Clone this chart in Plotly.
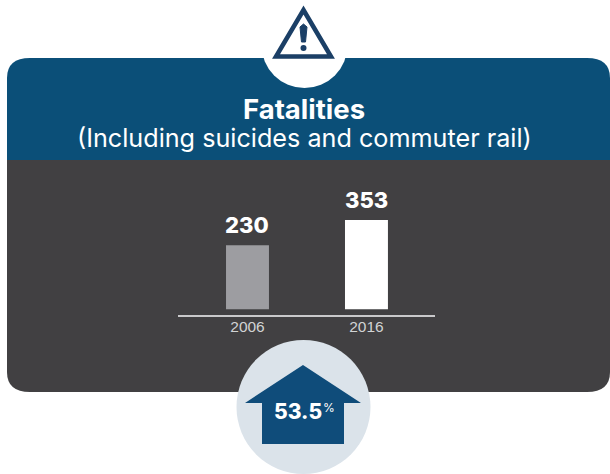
import plotly.graph_objects as go

years = ["2006", "2016"]
fatalities = [230, 353]
bar_colors = ["#9d9da1", "#ffffff"]
baseline = -81  # the source bars start below zero: heights are not proportional to the labels

W, H = 610, 474
def px(x): return x / W
def py(y): return 1 - y / H
def path(points):
    return "M" + " L".join(f"{px(x):.5f},{py(y):.5f}" for x, y in points) + " Z"

BLUE = "#0b4f78"
DARK = "#414042"
NAVY = "#1b3f66"

def circle(cx, cy, r, color, line=None):
    return dict(type="circle", xref="paper", yref="paper", layer="below",
                x0=px(cx - r), x1=px(cx + r), y0=py(cy + r), y1=py(cy - r),
                fillcolor=color, line=dict(width=0))

def p(x, y): return f"{px(x):.5f},{py(y):.5f}"

top_panel = (f"M{p(7,160)} L{p(7,78)} Q{p(7,58)} {p(30,58)} L{p(587,58)} "
             f"Q{p(610,58)} {p(610,78)} L{p(610,160)} Z")
bottom_panel = (f"M{p(7,160)} L{p(7,372)} Q{p(7,392)} {p(30,392)} L{p(587,392)} "
                f"Q{p(610,392)} {p(610,372)} L{p(610,160)} Z")

shapes = [
    dict(type="path", xref="paper", yref="paper", layer="below", path=top_panel,
         fillcolor=BLUE, line=dict(width=0)),
    dict(type="path", xref="paper", yref="paper", layer="below", path=bottom_panel,
         fillcolor=DARK, line=dict(width=0)),
    circle(304.5, 45, 43, "#ffffff"),
    circle(303.5, 407, 67, "#dbe3ea"),
    dict(type="path", xref="paper", yref="paper", layer="below",
         path=path([(303, 365), (361, 403), (344, 403), (344, 444), (262, 444), (262, 403), (245, 403)]),
         fillcolor="#0f4c7a", line=dict(width=0)),
    # warning triangle
    dict(type="path", xref="paper", yref="paper", layer="below",
         path=path([(303.5, 10), (331, 56.5), (276, 56.5)]),
         fillcolor="rgba(0,0,0,0)", line=dict(color=NAVY, width=4.5)),
    dict(type="path", xref="paper", yref="paper", layer="below",
         path=path([(300, 27), (303.5, 24), (307, 27), (305.5, 42), (301.5, 42)]),
         fillcolor=NAVY, line=dict(color=NAVY, width=1)),
    circle(303.5, 48, 3, NAVY),
]

fig = go.Figure(go.Bar(
    x=years,
    y=[v - baseline for v in fatalities],
    base=baseline,
    width=0.361,
    marker=dict(color=bar_colors, line=dict(width=0)),
    cliponaxis=False,
    hoverinfo="skip",
))

def label(text, x, y, size, color="#ffffff", weight="normal", family="Inter"):
    return dict(text=text, x=px(x), y=py(y),
                xref="paper", yref="paper", showarrow=False,
                font=dict(family=family, size=size, color=color, weight=weight),
                xanchor="center", yanchor="middle")

value_labels = [
    dict(text=str(v), x=i, y=v, xref="x", yref="y", showarrow=False,
         yanchor="bottom", yshift=5,
         font=dict(family="Inter", size=22, color="#ffffff", weight=800))
    for i, v in enumerate(fatalities)
]

fig.update_layout(
    width=W, height=H, margin=dict(l=0, r=0, t=0, b=0),
    paper_bgcolor="#ffffff", plot_bgcolor="rgba(0,0,0,0)",
    showlegend=False, shapes=shapes,
    annotations=[
        label("Fatalities", 304, 109, 27.5, weight="bold"),
        label("(Including suicides and commuter rail)", 304, 138, 25.2),
        label("53.5", 297.7, 411, 21, weight=800),
        label("%", 329, 407, 12),
    ] + value_labels,
    xaxis=dict(domain=[px(178), px(435)], type="category", range=[-0.584, 1.576],
               showgrid=False, zeroline=False, showline=True, linecolor="#c9c9cb", linewidth=2,
               ticks="", ticklabelstandoff=-4,
               tickfont=dict(family="Liberation Sans", size=15.5, color="#d1d3d4")),
    yaxis=dict(domain=[py(315), py(190)], range=[-108.7, 498.8], visible=False),
)
fig.write_html("out.html", config=dict(displayModeBar=False),
               post_script="document.body.style.margin='0';document.body.style.overflow='hidden';")
